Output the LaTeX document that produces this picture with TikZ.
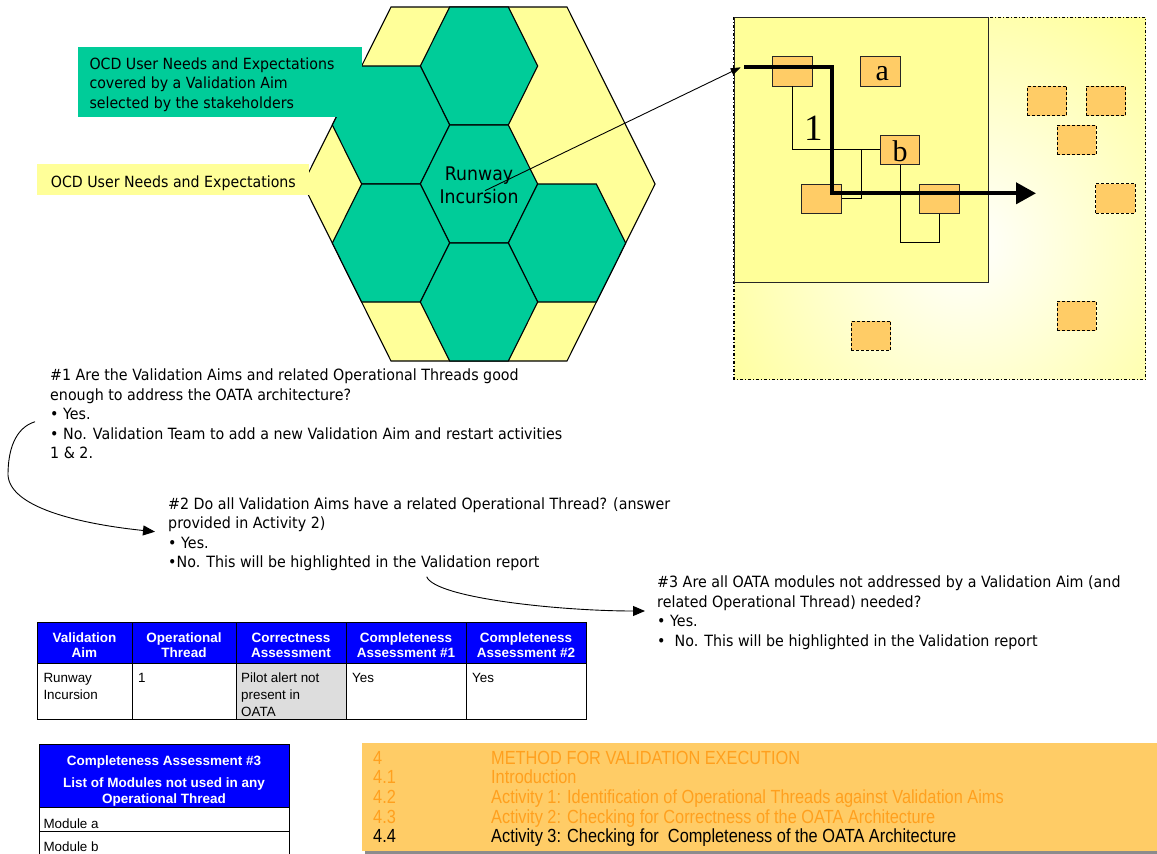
\documentclass[tikz,border=0pt]{standalone}
\usepackage{fontspec}
\usetikzlibrary{arrows.meta}
\newfontfamily\tahoma[FakeStretch=0.92]{DejaVu Sans}
\newfontfamily\arial{Liberation Sans}
\newfontfamily\cond[FakeStretch=0.86]{Liberation Sans}
\newfontfamily\tnr{Liberation Serif}
\definecolor{hexyellow}{HTML}{FFFF99}
\definecolor{hexgreen}{HTML}{00CC99}
\definecolor{modorange}{HTML}{FFCC66}
\definecolor{hdrblue}{HTML}{0000FF}
\definecolor{cellgray}{HTML}{DDDDDD}
\definecolor{tocorange}{RGB}{255,160,30}
\begin{document}
\begin{tikzpicture}[x=1pt,y=-1pt,
  qtext/.style={anchor=base west, inner sep=0, font=\tahoma\fontsize{15.5}{19}\selectfont},
  lbl/.style={anchor=base west, inner sep=0, font=\tahoma\fontsize{15.4}{19}\selectfont},
  hexlbl/.style={anchor=base, inner sep=0, font=\tahoma\fontsize{18.8}{22}\selectfont},
  hdr/.style={anchor=base, inner sep=0, text=white, font=\arial\bfseries\fontsize{13.5}{16}\selectfont},
  cell/.style={anchor=base west, inner sep=0, font=\arial\fontsize{13.4}{16}\selectfont},
  toc/.style={anchor=base west, inner sep=0, font=\cond\fontsize{19}{20}\selectfont},
  hexcell/.style={fill=hexgreen, draw=black, line width=1.1pt},
  modbox/.style={draw=black!85, fill=modorange, minimum width=39.5pt, minimum height=29.3pt, inner sep=0pt, line width=0.9pt},
  ghostbox/.style={modbox, draw=black, dash pattern=on 3pt off 2pt},
  modlbl/.style={anchor=base, inner sep=0, font=\tnr\fontsize{30}{30}\selectfont},
  thinline/.style={draw=black, line width=0.9pt},
  curvearrow/.style={draw=black, line width=0.9pt, -{Triangle[length=12pt,width=10pt]}},
  grid/.style={draw=black, line width=0.9pt}]
\useasboundingbox (0,0) rectangle (1157,854);
\clip (0,0) rectangle (1157,854);
\fill[white] (0,0) rectangle (1157,854);

% ---------- honeycomb of user needs ----------
\draw[fill=hexyellow, line width=1.1pt] (302.9,184) -- (391,7) -- (567,7) -- (655.1,184) -- (567,361) -- (391,361) -- cycle;
\foreach \cx/\cy in {479/66, 391/125, 479/184, 391/243, 567/243, 479/302}
  \draw[hexcell] (\cx-58.7,\cy) -- (\cx-29.35,\cy-59) -- (\cx+29.35,\cy-59) -- (\cx+58.7,\cy) -- (\cx+29.35,\cy+59) -- (\cx-29.35,\cy+59) -- cycle;

% legend boxes
\fill[hexgreen] (78,47) rectangle (362,117);
\node[lbl] (g1) at (89.3,69) {OCD User Needs and Expectations};
\node[lbl] (g2) at (89.3,88.7) {covered by a Validation Aim};
\node[lbl] (g3) at (89.3,108.2) {selected by the stakeholders};
\fill[hexyellow] (37,164) rectangle (309,195.3);
\node[lbl] (y1) at (50.7,187.4) {OCD User Needs and Expectations};

\node[hexlbl] (ri1) at (479,180) {Runway};
\node[hexlbl] (ri2) at (479,203.7) {Incursion};

% ---------- architecture panel ----------
\begin{scope}
  \clip (734,17.3) rectangle (1145.7,379.3);
  \fill[hexyellow] (734,17.3) rectangle (1145.7,379.3);
  \shade[inner color=white, outer color=hexyellow] (965,245) circle (290);
\end{scope}
\draw[line width=1.1pt, dash pattern=on 3pt off 2pt on 1pt off 2pt] (734,17.3) rectangle (1145.7,379.3);
\draw[fill=hexyellow, draw=black!85, line width=1pt] (734,17.3) rectangle (988.7,282);

\node[modbox] (m1) at (792.5,71.35) {};
\node[modbox] (ma) at (880.65,71.35) {};
\node[modbox] (mb) at (900,149.65) {};
\node[modbox] (m3) at (821.65,198.65) {};
\node[modbox] (m4) at (939.35,198.65) {};
\node[ghostbox] (u1) at (1047.15,100.85) {};
\node[ghostbox] (u2) at (1105.85,100.85) {};
\node[ghostbox] (u3) at (1076.7,140) {};
\node[ghostbox] (u4) at (1115.65,198.3) {};
\node[ghostbox] (u5) at (1076.7,316) {};
\node[ghostbox] (u6) at (871,335.7) {};

\node[modlbl] (la) at (882.3,80.7) {a};
\node[modlbl] (lb) at (900,161.7) {b};
\node[modlbl, font=\tnr\fontsize{37}{37}\selectfont] (l1) at (813.3,140) {1};

\coordinate (j1) at (861.3,149.65);
\coordinate (j2) at (900,242.3);
\draw[thinline] (m1.south) |- (mb.west);
\draw[thinline] (j1) |- (m3.east);
\draw[thinline] (mb.south) -- (j2) -| (m4.south);

\coordinate (ts) at (744,67.3);
\coordinate (tc) at (832,193.3);
\coordinate (te) at (1036,193.3);
\draw[line width=4pt, -{Triangle[length=20pt,width=21pt]}] (ts) -| (tc) -- (te);

\coordinate (rs) at (485,190.7);
\coordinate (re) at (740.7,67.3);
\draw[line width=0.9pt, -{Triangle[length=10pt,width=7pt]}] (rs) -- (re);

% ---------- assessment questions ----------
\foreach \t [count=\i] in {{\#1 Are the Validation Aims and related Operational Threads good},
    {enough to address the OATA architecture?}, {• Yes.},
    {• No. Validation Team to add a new Validation Aim and restart activities}, {1 \& 2.}}
  \node[qtext] (qa\i) at (50,{380.5+19.5*(\i-1)}) {\t};
\foreach \t [count=\i] in {{\#2 Do all Validation Aims have a related Operational Thread? (answer},
    {provided in Activity 2)}, {• Yes.}, {•No. This will be highlighted in the Validation report}}
  \node[qtext] (qb\i) at (168,{509+19.5*(\i-1)}) {\t};
\foreach \t [count=\i] in {{\#3 Are all OATA modules not addressed by a Validation Aim (and},
    {related Operational Thread) needed?}, {• Yes.}, {•~ No. This will be highlighted in the Validation report}}
  \node[qtext] (qc\i) at (657,{587.5+19.5*(\i-1)}) {\t};

\coordinate (c1s) at (35,421.7);
\coordinate (c1e) at (155,531.7);
\draw[curvearrow] (c1s) .. controls (15,428) and (8,450) .. (8,475) .. controls (10,510) and (90,525) .. (c1e);
\coordinate (c2s) at (426.7,576.7);
\coordinate (c2e) at (645,611);
\draw[curvearrow] (c2s) .. controls (435,598) and (560,611) .. (c2e);

% ---------- results table ----------
\fill[hdrblue] (37,622.5) rectangle (586,663);
\fill[cellgray] (236,663) rectangle (346,719.3);
\draw[grid] (37,622.5) rectangle (586,719.3);
\draw[grid] (37,663) -- (586,663);
\foreach \x in {132,236,346,466} \draw[grid] (\x,622.5) -- (\x,719.3);
\foreach \x/\a/\b [count=\i] in {84.5/Validation/Aim, 184/Operational/Thread, 291/Correctness/Assessment,
    406/Completeness/Assessment \#1, 526/Completeness/Assessment \#2} {
  \node[hdr] (ha\i) at (\x,642.5) {\a};
  \node[hdr] (hb\i) at (\x,657) {\b};
}
\node[cell] (r1) at (43.3,682.8) {Runway};
\node[cell] (r2) at (43.3,699.4) {Incursion};
\node[cell] (r3) at (138,682.8) {1};
\node[cell] (r4) at (241,682.8) {Pilot alert not};
\node[cell] (r5) at (241,699.4) {present in};
\node[cell] (r6) at (241,716) {OATA};
\node[cell] (r7) at (352,682.8) {Yes};
\node[cell] (r8) at (472,682.8) {Yes};

% ---------- unused modules table ----------
\fill[hdrblue] (39,744.7) rectangle (289,807.3);
\draw[grid] (39,860) -- (39,744.7) -- (289,744.7) -- (289,860);
\draw[grid] (39,807.3) -- (289,807.3);
\draw[grid] (39,831) -- (289,831);
\node[hdr] (k1) at (164,765.5) {Completeness Assessment \#3};
\node[hdr] (k2) at (164,787.5) {List of Modules not used in any};
\node[hdr] (k3) at (164,803) {Operational Thread};
\node[cell] (k4) at (43.3,828) {Module a};
\node[cell] (k5) at (43.3,851.5) {Module b};

% ---------- document outline ----------
\fill[black!45] (365,746) rectangle (1160,854);
\fill[modorange] (362,743) rectangle (1160,851);
\foreach \n/\t/\c [count=\i] in {4/METHOD FOR VALIDATION EXECUTION/tocorange,
    4.1/Introduction/tocorange,
    4.2/Activity 1: Identification of Operational Threads against Validation Aims/tocorange,
    4.3/Activity 2: Checking for Correctness of the OATA Architecture/tocorange,
    4.4/Activity 3: Checking for~ Completeness of the OATA Architecture/black} {
  \node[toc, text=\c] (tn\i) at (373,{764+19.7*(\i-1)}) {\n};
  \node[toc, text=\c] (tt\i) at (491,{764+19.7*(\i-1)}) {\t};
}
\end{tikzpicture}
\end{document}
